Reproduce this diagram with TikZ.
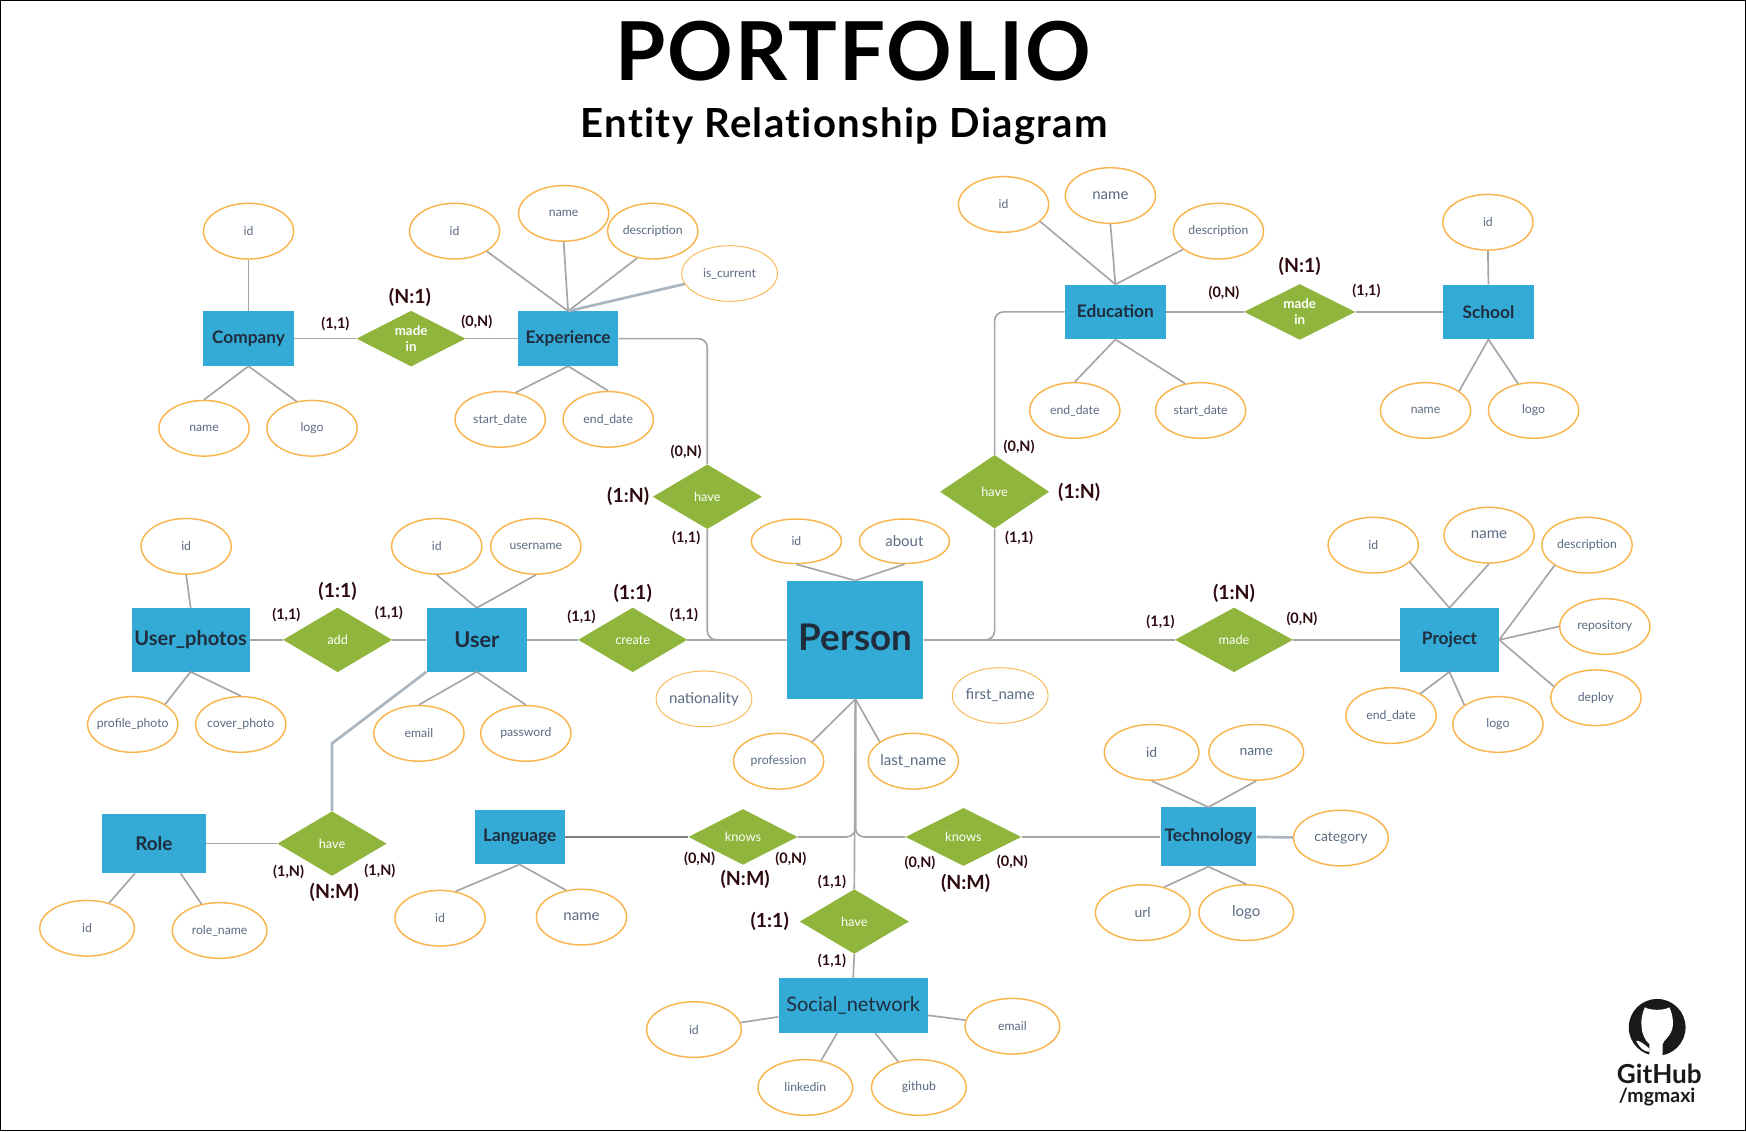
\documentclass[tikz,border=0pt]{standalone}
\usepackage{fontspec}
\setmainfont{Lato}
\usetikzlibrary{shapes.geometric}
\definecolor{entblue}{HTML}{34AAD6}
\definecolor{relgreen}{HTML}{8FB53C}
\definecolor{attrorange}{HTML}{F9B54C}
\definecolor{attrtext}{HTML}{5A6B82}
\definecolor{enttext}{HTML}{1F2D3D}
\definecolor{linkgray}{HTML}{A6A6A6}
\definecolor{linkdark}{HTML}{808080}
\definecolor{linkblue}{HTML}{ABB5C0}
\definecolor{cardtext}{HTML}{2D0A0F}
\newcommand{\fsz}[1]{\fontsize{#1}{#1}\selectfont}
\tikzset{
  entity/.style={rectangle,fill=entblue,inner sep=0pt,text=enttext,font=\fsz{15.5}\bfseries},
  rel/.style={diamond,aspect=2,fill=relgreen,inner sep=0pt,text=white,align=center,font=\fsz{11.5},minimum width=98pt,minimum height=58pt},
  attr/.style={ellipse,draw=attrorange,line width=1.3pt,fill=white,inner sep=-14pt,text=attrtext,font=\fsz{11},minimum width=81pt,minimum height=50pt},
  attrwide/.style={attr,minimum width=85pt},
  attrthin/.style={attr,line width=0.8pt,minimum width=86pt},
  link/.style={draw=linkgray,line width=1.5pt},
  linkheavy/.style={draw=linkblue,line width=2.4pt},
  linkdeep/.style={draw=linkdark,line width=1.5pt},
  curved/.style={link,rounded corners=8pt},
  card/.style={inner sep=0pt,text=cardtext,font=\fsz{13}\bfseries},
  ratio/.style={inner sep=0pt,text=cardtext,font=\fsz{17.5}\bfseries},
}
\begin{document}
\begin{tikzpicture}[x=1pt,y=-1pt]
\useasboundingbox (0,0) rectangle (1568,1015.7);
\fill[white] (0,0) rectangle (1568,1015.7);
\draw[black,line width=1.2pt] (0.6,0.6) rectangle (1567.4,1015.1);
\begin{scope}[shift={(0.2,0.6)}]

\node[inner sep=0pt,font=\fsz{73}\bfseries\addfontfeature{LetterSpace=2.6},text=black] (title) at (766,45.4) {PORTFOLIO};
\node[inner sep=0pt,font=\fsz{36}\bfseries\addfontfeature{LetterSpace=3.3,Ligatures=NoCommon},text=black] (subtitle) at (758,112.4) {Entity Relationship Diagram};

% entities
\node[entity,minimum width=82pt,minimum height=49pt] (company) at (223,303.5) {Company};
\node[entity,minimum width=90pt,minimum height=49pt] (exp) at (510,303.5) {\raisebox{2pt}{Experience}};
\node[entity,minimum width=91pt,minimum height=49pt] (edu) at (1001.5,279.5) {\raisebox{2pt}{Education}};
\node[entity,minimum width=81pt,minimum height=49pt] (school) at (1336.5,279.5) {School};
\node[entity,minimum width=106pt,minimum height=57pt,font=\fsz{18}\bfseries] (uphotos) at (171,574) {User\_photos};
\node[entity,minimum width=90pt,minimum height=57pt,font=\fsz{19.5}\bfseries] (user) at (428,574) {\raisebox{1pt}{User}};
\node[entity,minimum width=122pt,minimum height=106pt,font=\fsz{33}\bfseries] (person) at (768,574) {\raisebox{4pt}{Person}};
\node[entity,minimum width=89pt,minimum height=57pt] (project) at (1301.5,574) {\raisebox{1pt}{Project}};
\node[entity,minimum width=94pt,minimum height=53pt,font=\fsz{17}\bfseries] (role) at (138,757) {Role};
\node[entity,minimum width=81pt,minimum height=49pt] (lang) at (466.5,751) {\raisebox{1pt}{Language}};
\node[entity,minimum width=86pt,minimum height=53pt] (tech) at (1085,751) {Technology};
\node[entity,minimum width=134pt,minimum height=49pt,font=\fsz{18}] (social) at (766,902.5) {Social\_network};

% relationships
\node[rel,minimum height=50pt,font=\fsz{12}\bfseries] (rmade1) at (369,303.5) {made\\[2.5pt]in};
\node[rel,minimum width=100pt,minimum height=50pt,font=\fsz{12}\bfseries] (rmade2) at (1167,279.5) {made\\[2.5pt]in};
\node[rel] (rhave1) at (635,445.5) {have};
\node[rel,minimum height=66pt] (rhave2) at (893,441) {have};
\node[rel] (radd) at (303,574) {add};
\node[rel] (rcreate) at (568,574) {create};
\node[rel,minimum width=106pt] (rmade3) at (1108,574) {made};
\node[rel] (rhave3) at (298,757) {have};
\node[rel,minimum height=50pt] (rknows1) at (667,751) {knows};
\node[rel,minimum width=104pt,minimum height=52pt] (rknows2) at (865,751) {knows};
\node[rel] (rhave4) at (767,827) {have};

% attributes
\node[attr] (a1) at (223,207) {id};
\node[attr] (a2) at (183,384) {name};
\node[attr] (a3) at (280,384) {logo};
\node[attr] (a4) at (408,207) {id};
\node[attr] (a5) at (506,191) {name};
\node[attr] (a6) at (586,207) {description};
\node[attrthin] (a7) at (655,245) {is\_current};
\node[attr] (a8) at (449,376) {start\_date};
\node[attr] (a9) at (546,376) {end\_date};
\node[attr] (b1) at (901,183) {id};
\node[attr,font=\fsz{13.5}] (b2) at (997,175) {name};
\node[attr] (b3) at (1094,207) {description};
\node[attr] (b4) at (965,368) {end\_date};
\node[attr] (b5) at (1078,368) {start\_date};
\node[attr] (b6) at (1336,199) {id};
\node[attr] (b7) at (1280,368) {name};
\node[attr] (b8) at (1377,368) {logo};
\node[attr] (c1) at (167,490) {id};
\node[attr] (c2) at (119,650) {profile\_photo};
\node[attr] (c3) at (216,650) {cover\_photo};
\node[attr] (c4) at (392,490) {id};
\node[attr] (c5) at (481,490) {username};
\node[attr] (c6) at (376,658) {email};
\node[attr] (c7) at (472,658) {password};
\node[attr,minimum height=40pt] (d1) at (715,485.5) {id};
\node[attr,minimum height=40pt,font=\fsz{13.5}] (d2) at (812,485.5) {about};
\node[attrthin,font=\fsz{13.5}] (d3) at (632,627) {nationality};
\node[attrthin,font=\fsz{13.5}] (d4) at (898,624) {first\_name};
\node[attr] (d5) at (699,683) {profession};
\node[attr,font=\fsz{13.5}] (d6) at (820,683) {last\_name};
\node[attr] (e1) at (1233,489) {id};
\node[attr,font=\fsz{13.5}] (e2) at (1337,480) {name};
\node[attr] (e3) at (1425,489) {description};
\node[attr] (e4) at (1441,562) {repository};
\node[attr] (e5) at (1433,626) {deploy};
\node[attr] (e6) at (1345,650) {logo};
\node[attr] (e7) at (1249,642) {end\_date};
\node[attrwide,font=\fsz{12.5}] (f1) at (1034,675) {id};
\node[attrwide,font=\fsz{12.5}] (f2) at (1128,675) {name};
\node[attrwide,font=\fsz{12.5}] (f3) at (1204,752) {category};
\node[attrwide,font=\fsz{12.5}] (f4) at (1026,819) {url};
\node[attrwide,font=\fsz{13.5}] (f5) at (1119,819) {logo};
\node[attrwide] (g1) at (78,833) {id};
\node[attrwide] (g2) at (197,835) {role\_name};
\node[attr] (g3) at (395,824) {id};
\node[attr,font=\fsz{13.5}] (g4) at (522,823) {name};
\node[attrwide] (h1) at (623,924) {id};
\node[attrwide] (h2) at (909,921) {email};
\node[attrwide] (h3) at (723,976) {linkedin};
\node[attrwide] (h4) at (825,976) {github};

% attribute links
\draw[link] (company.north) -- (a1);
\draw[link] (company.south) -- (a2.north);
\draw[link] (company.south) -- (a3.120);
\draw[link] (exp.north) -- (a4.south east);
\draw[link] (exp.north) -- (a5.south);
\draw[link] (exp.north) -- (a6.-120);
\draw[linkheavy] (exp.north) -- (a7);
\draw[link] (exp.south) -- (a8.60);
\draw[link] (exp.south) -- (a9.north);
\draw[link] (edu.north) -- (b1.-25);
\draw[link] (edu.north) -- (b2.south);
\draw[link] (edu.north) -- (b3);
\draw[link] (edu.south) -- (b4.north);
\draw[link] (edu.south) -- (b5.120);
\draw[link] (school.north) -- (b6.south);
\draw[link] (school.south) -- (b7.30);
\draw[link] (school.south) -- (b8.120);
\draw[link] (uphotos.north) -- (c1.south);
\draw[link] (uphotos.south) -- (c2.north east);
\draw[link] (uphotos.south) -- (c3.north);
\draw[link] (user.north) -- (c4.south);
\draw[link] (user.north) -- (c5.south);
\draw[link] (user.south) -- (c6.north);
\draw[link] (user.south) -- (c7.north);
\draw[link] (person.north) -- (d1.south);
\draw[link] (person.north) -- (d2.south);
\draw[link] (person.south) -- (d5.30);
\draw[link] (person.south) -- (d6.150);
\draw[link] (project.north) -- (e1.-25);
\draw[link] (project.north) -- (e2.south);
\draw[link] (project.east) -- (e3.south west);
\draw[link] (project.east) -- (e4.west);
\draw[link] (project.east) -- (e5.165);
\draw[link] (project.south) -- (e6.150);
\draw[link] (project.south) -- (e7);
\draw[link] (tech.north) -- (f1.south);
\draw[link] (tech.north) -- (f2.south);
\draw[linkheavy] (tech.east) -- (f3);
\draw[link] (tech.south) -- (f4.50);
\draw[link] (tech.south) -- (f5.north);
\draw[link] (role.south) ++(-17,0) coordinate (roleleft) (roleleft) -- (g1);
\draw[link] (role.south) ++(24,0) coordinate (roleright) (roleright) -- (g2);
\draw[link] (lang.south) -- (g3.60);
\draw[link] (lang.south) -- (g4.120);
\draw[link] (social) -- (h1);
\draw[link] (social) -- (h2);
\draw[link] (social) -- (h3);
\draw[link] (social) -- (h4);

% relationship links
\draw[link] (company.east) -- (rmade1.west);
\draw[link] (rmade1.east) -- (exp.west);
\draw[link] (edu.east) -- (rmade2.west);
\draw[link] (rmade2.east) -- (school.west);
\draw[curved] (exp.east) -| (rhave1.north);
\draw[curved] (rhave1.south) |- (person.west);
\draw[curved] (edu.west) -| (rhave2.north);
\draw[curved] (rhave2.south) |- (person.east);
\draw[link] (uphotos.east) -- (radd.west);
\draw[link] (radd.east) -- (user.west);
\draw[link] (user.east) -- (rcreate.west);
\draw[link] (rcreate.east) -- (person.west);
\draw[link] (person.east) -- (rmade3.west);
\draw[link] (rmade3.east) -- (project.west);
\draw[link] (role.east) -- (rhave3.west);
\coordinate (bend) at (298,667);
\draw[linkheavy] (rhave3.north) -- (bend) -- (user.south west);
\draw[linkdeep] (lang.east) -- (rknows1.west);
\draw[curved] (rknows1.east) -| (person.south);
\draw[curved] (rknows2.west) -| (person.south);
\draw[link] (rknows2.east) -- (tech.west);
\draw[link] (person.south) -- (rhave4.north);
\draw[link] (rhave4.south) -- (social.north);

% cardinalities
\node[ratio] (k1) at (368,266.5) {(N:1)};
\node[card] (k2) at (301,290.5) {(1,1)};
\node[card] (k3) at (428,288.5) {(0,N)};
\node[card] (k4) at (616,405.5) {(0,N)};
\node[ratio] (k5) at (564,445.5) {(1:N)};
\node[card] (k6) at (616,482.5) {(1,1)};
\node[card] (k7) at (915,400.5) {(0,N)};
\node[ratio] (k8) at (969,441.5) {(1:N)};
\node[card] (k9) at (915,482.5) {(1,1)};
\node[ratio] (l1) at (1167,238.5) {(N:1)};
\node[card] (l2) at (1099,262.5) {(0,N)};
\node[card] (l3) at (1227,260.5) {(1,1)};
\node[ratio] (l4) at (303,530.5) {(1:1)};
\node[card] (l5) at (257,551.5) {(1,1)};
\node[card] (l6) at (349,549.5) {(1,1)};
\node[ratio] (l7) at (568,532.5) {(1:1)};
\node[card] (l8) at (522,553.5) {(1,1)};
\node[card] (l9) at (614,551.5) {(1,1)};
\node[ratio] (m1) at (1108,532.5) {(1:N)};
\node[card] (m2) at (1042,557.5) {(1,1)};
\node[card] (m3) at (1169,555.5) {(0,N)};
\node[card] (m4) at (259,782.5) {(1,N)};
\node[card] (m5) at (341,781.5) {(1,N)};
\node[ratio] (m6) at (300,800.5) {(N:M)};
\node[card] (m7) at (628,770.5) {(0,N)};
\node[card] (m8) at (710,770.5) {(0,N)};
\node[ratio] (m9) at (669,789.5) {(N:M)};
\node[card] (n1) at (826,774.5) {(0,N)};
\node[card] (n2) at (909,773.5) {(0,N)};
\node[ratio] (n3) at (867,792.5) {(N:M)};
\node[card] (n4) at (747,791.5) {(1,1)};
\node[ratio] (n5) at (691,826.5) {(1:1)};
\node[card] (n6) at (747,862.5) {(1,1)};

% GitHub mark
\fill[black!90] (1488,922) circle (25.5);
\fill[white] (1477,904) .. controls (1482,907) and (1494,907) .. (1499,904)
  .. controls (1501,908) and (1503,916) .. (1502,921)
  .. controls (1501,930) and (1493,934) .. (1493,937)
  -- (1493,949) -- (1481,949) -- (1481,937)
  .. controls (1477,934) and (1474,927) .. (1474,921)
  .. controls (1473,916) and (1475,908) .. (1477,904) -- cycle;
\fill[white] (1469,934) .. controls (1473,934) and (1476,937) .. (1481,941) -- (1481,944) .. controls (1476,944) and (1472,940) .. (1469,934) -- cycle;
\node[inner sep=0pt,font=\fsz{23.5}\bfseries,text=black!90] (gh) at (1490,964) {GitHub};
\node[inner sep=0pt,font=\fsz{17.5}\bfseries,text=black!90] (ghu) at (1488,985) {/mgmaxi};
\end{scope}
\end{tikzpicture}
\end{document}
